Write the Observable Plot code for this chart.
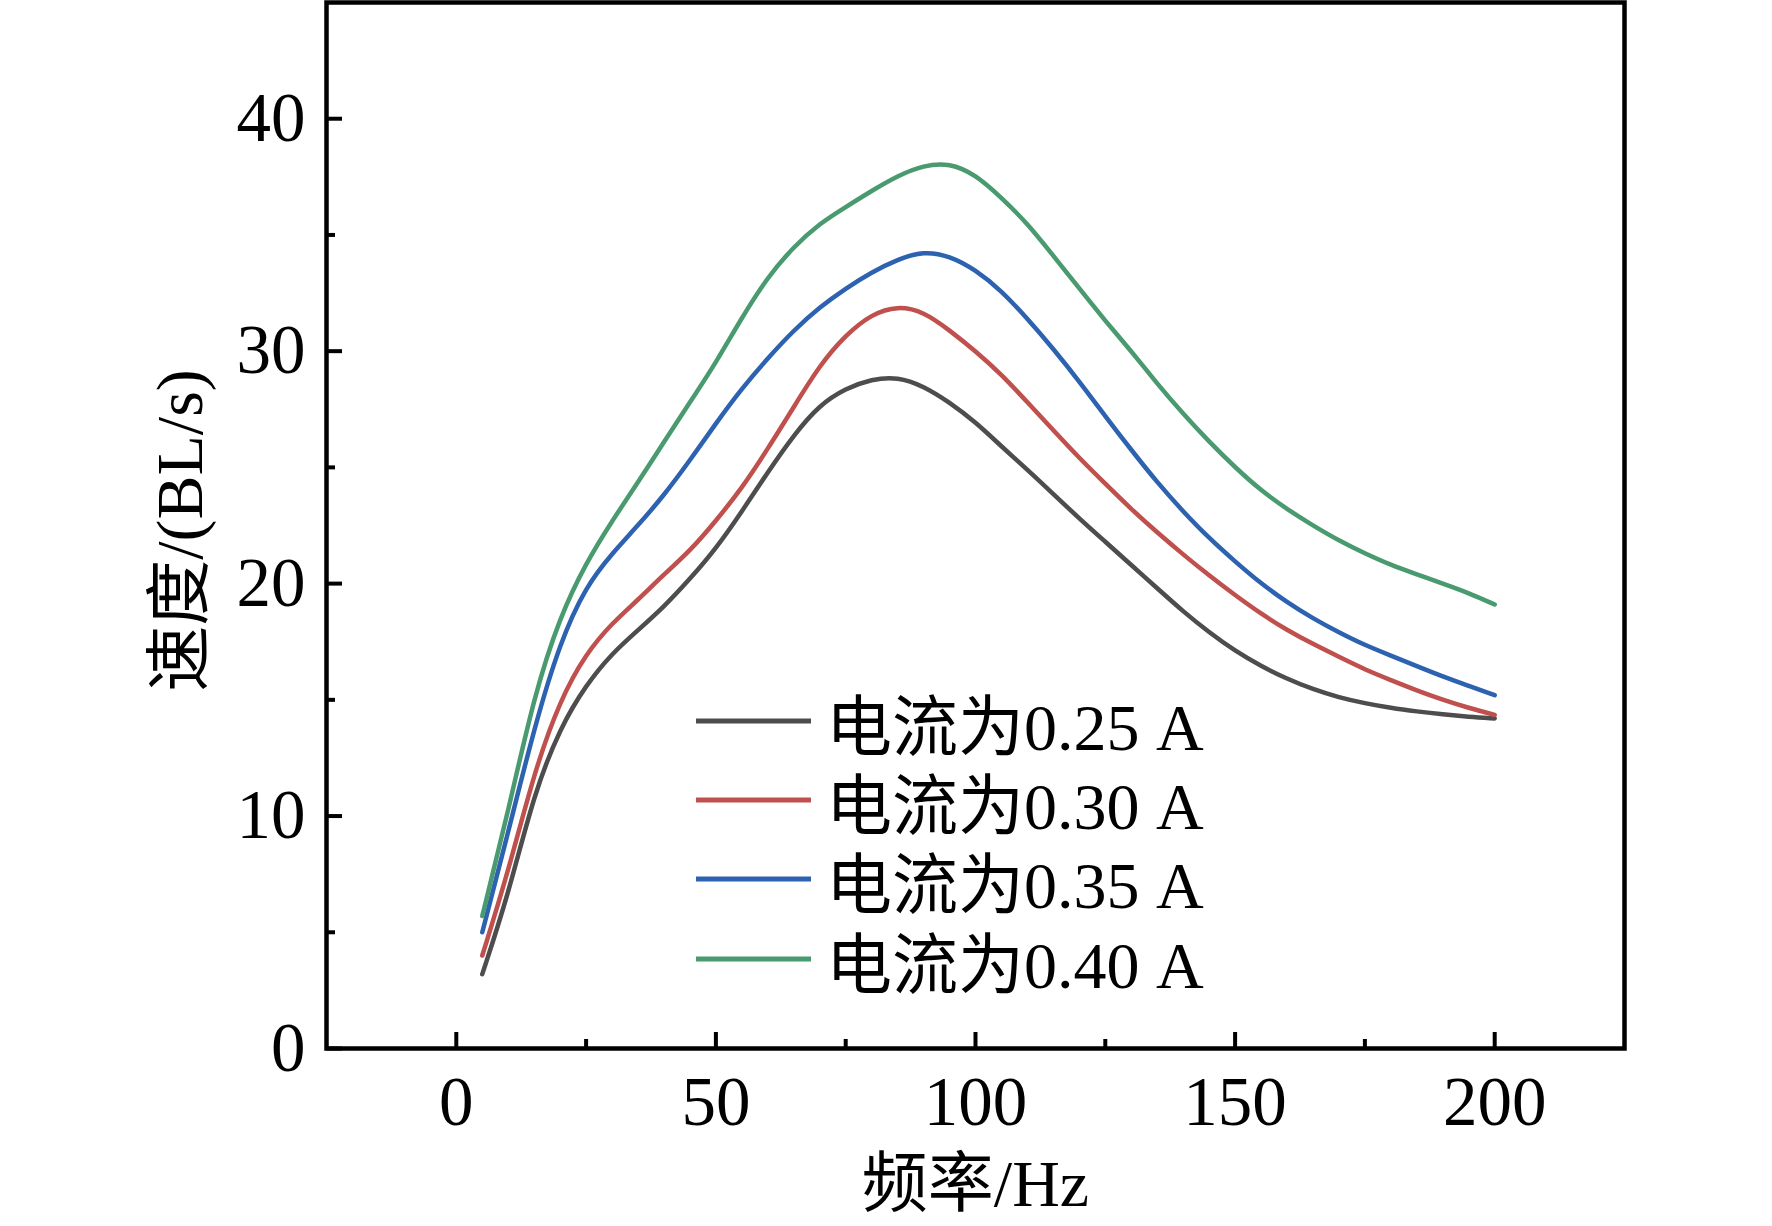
<!DOCTYPE html>
<html>
<head>
<meta charset="utf-8">
<script src="https://cdn.jsdelivr.net/npm/d3@7"></script>
<script src="https://cdn.jsdelivr.net/npm/@observablehq/plot@0.6"></script>
<style>
  html, body { margin: 0; padding: 0; background: #fff; }
  #wrap { position: relative; width: 1772px; height: 1226px; overflow: hidden; }
  #legend { position: absolute; left: 696px; top: 681px; font-family: 'Liberation Serif', 'Noto Sans CJK SC', serif; font-size: 66px; color: #000; }
  .row { display: flex; align-items: center; height: 79.3px; white-space: nowrap; }
  .row svg { margin-right: 15px; }
</style>
</head>
<body>
<div id="wrap"><div id="legend"></div></div>
<script>
const freqs = [5, 10, 15, 20, 25, 30, 35, 40, 45, 50, 55, 60, 65, 70, 75, 80, 85, 90, 95, 100,
               105, 110, 115, 120, 125, 130, 135, 140, 145, 150, 155, 160, 165, 170, 175, 180, 185, 190, 195, 200];
const series = ["电流为0.25 A", "电流为0.30 A", "电流为0.35 A", "电流为0.40 A"];
const colors = ["#4d4d4d", "#c0504d", "#2d62b0", "#4a9a70"];
const v025 = [3.2, 6.6, 11.0, 13.8, 15.65, 17.0, 18.0, 19.0, 20.2, 21.5, 23.1, 24.8, 26.4, 27.7, 28.4, 28.8, 28.9, 28.5, 27.8, 26.95,
              25.9, 24.9, 23.85, 22.8, 21.8, 20.8, 19.8, 18.8, 17.9, 17.1, 16.45, 15.9, 15.45, 15.1, 14.85, 14.65, 14.5, 14.37, 14.27, 14.2];
const v030 = [4.0, 7.6, 11.9, 15.0, 17.0, 18.3, 19.3, 20.4, 21.4, 22.7, 24.1, 25.8, 27.6, 29.4, 30.7, 31.6, 31.95, 31.7, 30.9, 30.0,
              29.0, 27.8, 26.6, 25.4, 24.3, 23.2, 22.2, 21.25, 20.35, 19.5, 18.7, 18.0, 17.4, 16.85, 16.3, 15.85, 15.4, 15.0, 14.65, 14.35];
const v035 = [5.0, 9.3, 13.8, 17.5, 19.9, 21.3, 22.5, 23.8, 25.3, 26.9, 28.4, 29.7, 30.9, 31.9, 32.7, 33.4, 33.95, 34.3, 34.1, 33.5,
              32.6, 31.4, 30.1, 28.7, 27.2, 25.75, 24.35, 23.1, 21.95, 20.95, 20.0, 19.2, 18.5, 17.9, 17.35, 16.9, 16.45, 16.0, 15.6, 15.2];
const v040 = [5.7, 10.2, 15.2, 18.6, 20.9, 22.7, 24.35, 26.1, 27.8, 29.5, 31.45, 33.2, 34.5, 35.5, 36.2, 36.9, 37.55, 38.0, 38.1, 37.6,
              36.6, 35.5, 34.1, 32.7, 31.3, 30.0, 28.6, 27.3, 26.1, 25.0, 24.0, 23.2, 22.5, 21.85, 21.3, 20.8, 20.4, 20.0, 19.6, 19.1];
const xTicks = [0, 50, 100, 150, 200];
const xMinor = [25, 75, 125, 175];
const yTicks = [0, 10, 20, 30, 40];
const yMinor = [5, 15, 25, 35];
const xTitle = "频率/Hz";
const yTitle = "速度/(BL/s)";

const allVals = [v025, v030, v035, v040];
const data = [];
series.forEach((s, i) => freqs.forEach((f, j) => data.push({ f, v: allVals[i][j], s })));

const font = "'Liberation Serif', 'Noto Sans CJK SC', serif";
const chart = Plot.plot({
  width: 1772,
  height: 1226,
  marginLeft: 326,
  marginRight: 148,
  marginTop: 2,
  marginBottom: 178,
  style: { fontFamily: font, fontSize: "69px", background: "#fff", color: "#000" },
  x: { domain: [-25, 225] },
  y: { domain: [0, 45] },
  color: { domain: series, range: colors },
  marks: [
    Plot.line(data, { x: "f", y: "v", stroke: "s", strokeWidth: 4.5, curve: "basis" }),
    Plot.axisX({ ticks: xTicks, tickSize: 0, tickPadding: 27, fontSize: 69, label: null }),
    Plot.axisX({ ticks: xTicks, tickSize: -16, text: null, label: null, strokeWidth: 4 }),
    Plot.axisX({ ticks: xMinor, tickSize: -9, text: null, label: null, strokeWidth: 4 }),
    Plot.axisY({ ticks: yTicks, tickSize: 0, tickPadding: 21, fontSize: 69, label: null }),
    Plot.axisY({ ticks: yTicks, tickSize: -16, text: null, label: null, strokeWidth: 4 }),
    Plot.axisY({ ticks: yMinor, tickSize: -9, text: null, label: null, strokeWidth: 4 }),
    Plot.frame({ stroke: "#000", strokeWidth: 4.5 }),
    Plot.text([xTitle], { frameAnchor: "bottom", dy: 136, fontSize: 66, lineAnchor: "middle", textAnchor: "middle" }),
    Plot.text([yTitle], { frameAnchor: "left", dx: -146, dy: 5, rotate: -90, fontSize: 66, lineAnchor: "middle", textAnchor: "middle" })
  ]
});
const wrap = document.getElementById("wrap");
wrap.insertBefore(chart, wrap.firstChild);

const legend = document.getElementById("legend");
series.forEach((s, i) => {
  const row = document.createElement("div");
  row.className = "row";
  row.innerHTML = `<svg width="115" height="10"><line x1="0" x2="115" y1="5" y2="5" stroke="${colors[i]}" stroke-width="5"/></svg><span>${s}</span>`;
  legend.appendChild(row);
});
</script>
</body>
</html>
